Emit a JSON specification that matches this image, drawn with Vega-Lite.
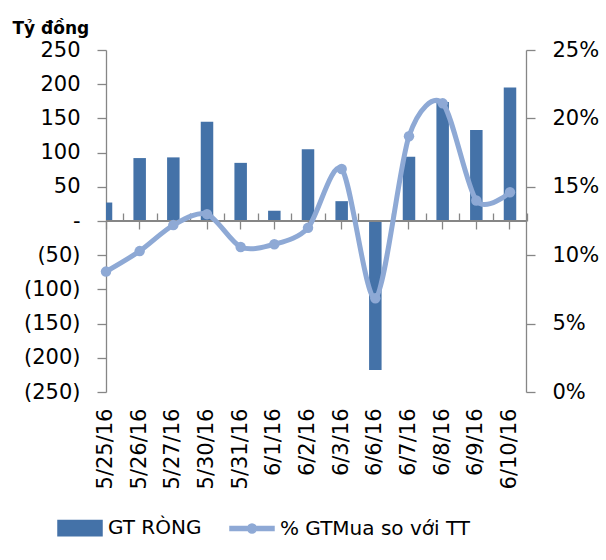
{
  "$schema": "https://vega.github.io/schema/vega-lite/v6.json",
  "autosize": "none",
  "width": 420,
  "height": 342,
  "padding": {"left": 106, "top": 50, "right": 80, "bottom": 168},
  "background": "white",
  "config": {
    "view": {"stroke": null},
    "font": "DejaVu Sans",
    "axis": {"grid": false, "domainColor": "#868686", "tickColor": "#868686", "labelColor": "black", "labelFont": "DejaVu Sans", "labelFontSize": 21, "domainWidth": 1.3, "tickWidth": 1.3}
  },
  "data": {
    "values": [
      {"date": "5/25/16", "net": 27, "pct": 0.088},
      {"date": "5/26/16", "net": 92, "pct": 0.103},
      {"date": "5/27/16", "net": 93, "pct": 0.122},
      {"date": "5/30/16", "net": 145, "pct": 0.130},
      {"date": "5/31/16", "net": 85, "pct": 0.106},
      {"date": "6/1/16", "net": 15, "pct": 0.108},
      {"date": "6/2/16", "net": 105, "pct": 0.120},
      {"date": "6/3/16", "net": 29, "pct": 0.163},
      {"date": "6/6/16", "net": -218, "pct": 0.0685},
      {"date": "6/7/16", "net": 94, "pct": 0.187},
      {"date": "6/8/16", "net": 174, "pct": 0.211},
      {"date": "6/9/16", "net": 133, "pct": 0.140},
      {"date": "6/10/16", "net": 195, "pct": 0.146}
    ]
  },
  "layer": [
    {
      "mark": {"type": "bar", "size": 12.5, "clip": true},
      "encoding": {
        "x": {
          "field": "date", "type": "ordinal", "sort": null,
          "scale": {"type": "band", "domain": ["5/25/16","5/26/16","5/27/16","5/30/16","5/31/16","6/1/16","6/2/16","6/3/16","6/6/16","6/7/16","6/8/16","6/9/16","6/10/16"], "range": [-16.83, 420.83], "paddingInner": 0, "paddingOuter": 0},
          "axis": {"orient": "bottom", "offset": -171, "domain": false, "ticks": true, "tickSize": 8, "labelAngle": -90, "labelPadding": 179, "labelOverlap": false, "title": null}
        },
        "y": {
          "field": "net", "type": "quantitative",
          "scale": {"domain": [-250, 250], "nice": false, "zero": false},
          "axis": {
            "orient": "left",
            "values": [-250, -200, -150, -100, -50, 0, 50, 100, 150, 200, 250],
            "tickSize": 9, "labelPadding": 17,
            "labelExpr": "datum.value > 0 ? format(datum.value, 'd') + '\u00a0' : (datum.value < 0 ? '(' + format(-datum.value, 'd') + ')' : '-\u2007\u2007')",
            "title": "Tỷ đồng", "titleAngle": 0, "titleAlign": "left", "titleBaseline": "alphabetic",
            "titleX": -94, "titleY": -17, "titleFontSize": 17, "titleFontWeight": "bold", "titleColor": "black"
          }
        },
        "color": {
          "datum": "GT RÒNG",
          "scale": {"domain": ["GT RÒNG", "% GTMua so với TT"], "range": ["#4472A8", "#8EA9D5"]},
          "legend": {
            "orient": "none", "legendX": -49, "legendY": 455, "direction": "horizontal",
            "title": null, "labelFontSize": 20, "labelFont": "DejaVu Sans", "labelColor": "black", "labelLimit": 400,
            "symbolSize": 1936, "labelOffset": 5, "columnPadding": 25, "padding": 0,
            "encode": {
              "symbols": {
                "update": {
                  "shape": {"signal": "datum.value === 'GT RÒNG' ? 'M-1,-0.35L1,-0.35L1,0.35L-1,0.35Z' : 'M-1,-0.09L-0.2,-0.09L-0.2,0.09L-1,0.09Z M0.2,-0.09L1,-0.09L1,0.09L0.2,0.09Z M-0.2,0A0.2,0.2 0 1,0 0.2,0A0.2,0.2 0 1,0 -0.2,0Z'"},
                  "fill": {"signal": "datum.value === 'GT RÒNG' ? '#4472A8' : '#8EA9D5'"},
                  "stroke": {"value": "transparent"},
                  "opacity": {"value": 1},
                  "fillOpacity": {"value": 1}
                }
              }
            }
          }
        }
      }
    },
    {
      "mark": {"type": "rule", "color": "#868686", "strokeWidth": 1.3},
      "encoding": {
        "y": {"datum": 0, "type": "quantitative", "scale": {"domain": [-250, 250], "nice": false, "zero": false}, "axis": null}
      }
    },
    {
      "mark": {"type": "line", "interpolate": "cardinal", "tension": 0.15, "strokeWidth": 5},
      "encoding": {
        "x": {
          "field": "date", "type": "ordinal", "sort": null,
          "axis": {"orient": "top", "offset": -171, "domain": false, "labels": false, "ticks": true, "tickSize": 8, "tickBand": "extent",
                   "values": ["5/26/16","5/27/16","5/30/16","5/31/16","6/1/16","6/2/16","6/3/16","6/6/16","6/7/16","6/8/16","6/9/16","6/10/16"], "title": null}
        },
        "y": {
          "field": "pct", "type": "quantitative",
          "scale": {"domain": [0, 0.25], "nice": false},
          "axis": {"orient": "right", "values": [0, 0.05, 0.1, 0.15, 0.2, 0.25], "format": ".0%", "tickSize": 9, "labelPadding": 17, "title": null}
        },
        "color": {"datum": "% GTMua so với TT"}
      }
    },
    {
      "mark": {"type": "point", "filled": true, "size": 110, "color": "#8EA9D5", "opacity": 1},
      "encoding": {
        "x": {"field": "date", "type": "ordinal", "sort": null, "axis": null},
        "y": {"field": "pct", "type": "quantitative", "scale": {"domain": [0, 0.25], "nice": false}, "axis": null}
      }
    }
  ],
  "resolve": {"scale": {"y": "independent"}, "axis": {"x": "independent", "y": "independent"}}
}
